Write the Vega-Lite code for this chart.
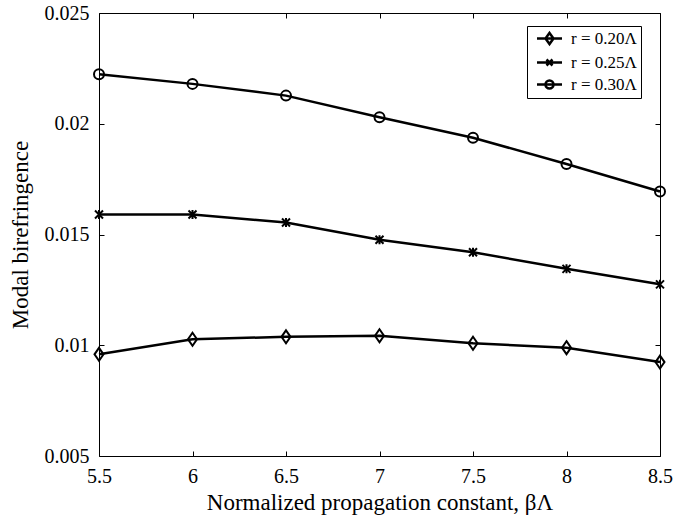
{
  "$schema": "https://vega.github.io/schema/vega-lite/v6.json",
  "width": 561,
  "height": 443,
  "autosize": {"type": "none"},
  "padding": {"left": 99, "top": 13, "right": 26, "bottom": 62},
  "background": "white",
  "config": {
    "view": {"stroke": "black", "strokeWidth": 1},
    "font": "Liberation Serif",
    "axis": {
      "grid": false,
      "domain": false,
      "tickColor": "black",
      "tickSize": -5,
      "labelFlush": false,
      "labelFont": "Liberation Serif",
      "labelFontSize": 20,
      "labelColor": "black",
      "titleFont": "Liberation Serif",
      "titleFontSize": 23,
      "titleFontWeight": "normal",
      "titleColor": "black"
    }
  },
  "data": {
    "values": [
      {"x": 5.5, "y": 0.00959, "r": "r = 0.20Λ"},
      {"x": 6.0, "y": 0.01027, "r": "r = 0.20Λ"},
      {"x": 6.5, "y": 0.01038, "r": "r = 0.20Λ"},
      {"x": 7.0, "y": 0.01043, "r": "r = 0.20Λ"},
      {"x": 7.5, "y": 0.01009, "r": "r = 0.20Λ"},
      {"x": 8.0, "y": 0.00989, "r": "r = 0.20Λ"},
      {"x": 8.5, "y": 0.00924, "r": "r = 0.20Λ"},
      {"x": 5.5, "y": 0.0159, "r": "r = 0.25Λ"},
      {"x": 6.0, "y": 0.0159, "r": "r = 0.25Λ"},
      {"x": 6.5, "y": 0.01554, "r": "r = 0.25Λ"},
      {"x": 7.0, "y": 0.01476, "r": "r = 0.25Λ"},
      {"x": 7.5, "y": 0.0142, "r": "r = 0.25Λ"},
      {"x": 8.0, "y": 0.01345, "r": "r = 0.25Λ"},
      {"x": 8.5, "y": 0.01275, "r": "r = 0.25Λ"},
      {"x": 5.5, "y": 0.02223, "r": "r = 0.30Λ"},
      {"x": 6.0, "y": 0.0218, "r": "r = 0.30Λ"},
      {"x": 6.5, "y": 0.02127, "r": "r = 0.30Λ"},
      {"x": 7.0, "y": 0.02029, "r": "r = 0.30Λ"},
      {"x": 7.5, "y": 0.01937, "r": "r = 0.30Λ"},
      {"x": 8.0, "y": 0.01818, "r": "r = 0.30Λ"},
      {"x": 8.5, "y": 0.01694, "r": "r = 0.30Λ"}
    ]
  },
  "resolve": {"axis": {"x": "independent", "y": "independent"}},
  "layer": [
    {
      "mark": {"type": "line", "strokeWidth": 2.5},
      "encoding": {
        "x": {
          "field": "x", "type": "quantitative",
          "scale": {"domain": [5.5, 8.5], "nice": false, "zero": false},
          "axis": {"values": [5.5, 6, 6.5, 7, 7.5, 8, 8.5], "format": "~g", "labelPadding": 15, "title": "Normalized propagation constant, βΛ", "titlePadding": 5}
        },
        "y": {
          "field": "y", "type": "quantitative",
          "scale": {"domain": [0.005, 0.025], "nice": false, "zero": false},
          "axis": {"values": [0.005, 0.01, 0.015, 0.02, 0.025], "format": "~g", "labelPadding": 15, "title": "Modal birefringence", "titlePadding": 12}
        },
        "color": {
          "field": "r", "type": "nominal",
          "scale": {"domain": ["r = 0.20Λ", "r = 0.25Λ", "r = 0.30Λ"], "range": ["black", "black", "black"]},
          "legend": {
            "title": null,
            "orient": "none",
            "legendX": 428,
            "legendY": 13,
            "strokeColor": "black",
            "fillColor": "white",
            "padding": 4,
            "rowPadding": 4,
            "symbolSize": 100,
            "symbolStrokeWidth": 2.5,
            "symbolFillColor": "transparent",
            "symbolOffset": 10,
            "labelFont": "Liberation Serif",
            "labelFontSize": 17,
            "labelColor": "black",
            "labelOffset": 13,
            "encode": {
              "symbols": {
                "update": {
                  "shape": {"signal": "datum.value == 'r = 0.20Λ' ? 'M-2.5,0H2.5M0,-1.1L0.8,0L0,1.1L-0.8,0Z' : datum.value == 'r = 0.25Λ' ? 'M-2.5,0H2.5M-0.6,-0.6L0.6,0.6M-0.6,0.6L0.6,-0.6' : 'M-2.5,0H2.5M-0.8,0A0.8,0.8 0 1,0 0.8,0A0.8,0.8 0 1,0 -0.8,0Z'"}
                }
              }
            }
          }
        }
      }
    },
    {
      "transform": [{"filter": "datum.r == 'r = 0.20Λ'"}],
      "mark": {"type": "point", "filled": false, "stroke": "black", "strokeWidth": 2, "size": 100, "opacity": 1, "shape": "M0,-1.3L0.9,0L0,1.3L-0.9,0Z"},
      "encoding": {
        "x": {
          "field": "x", "type": "quantitative",
          "axis": {"orient": "top", "values": [5.5, 6, 6.5, 7, 7.5, 8, 8.5], "labels": false, "title": null}
        },
        "y": {
          "field": "y", "type": "quantitative",
          "axis": {"orient": "right", "values": [0.005, 0.01, 0.015, 0.02, 0.025], "labels": false, "title": null}
        }
      }
    },
    {
      "transform": [{"filter": "datum.r == 'r = 0.25Λ'"}],
      "mark": {"type": "point", "filled": false, "stroke": "black", "strokeWidth": 2, "size": 100, "opacity": 1, "shape": "M-0.8,-0.8L0.8,0.8M-0.8,0.8L0.8,-0.8M0,-0.9L0,0.9"},
      "encoding": {
        "x": {"field": "x", "type": "quantitative", "axis": null},
        "y": {"field": "y", "type": "quantitative", "axis": null}
      }
    },
    {
      "transform": [{"filter": "datum.r == 'r = 0.30Λ'"}],
      "mark": {"type": "point", "filled": false, "stroke": "black", "strokeWidth": 2, "size": 100, "opacity": 1, "shape": "M-1,0A1,1 0 1,0 1,0A1,1 0 1,0 -1,0Z"},
      "encoding": {
        "x": {"field": "x", "type": "quantitative", "axis": null},
        "y": {"field": "y", "type": "quantitative", "axis": null}
      }
    }
  ]
}
